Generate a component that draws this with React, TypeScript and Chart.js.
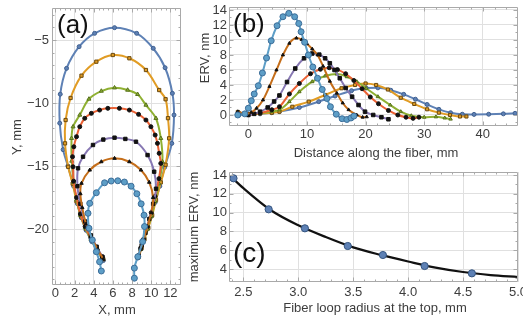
import React, { useEffect, useRef } from "react";
import { Chart, registerables } from "chart.js";

Chart.register(...registerables);

const FONT = "'Liberation Sans', Arial, sans-serif";
const TEXT_COLOR = "#3d3d3d";
const GRID_COLOR = "#e0e0e0";
const FRAME_COLOR = "#a9a9a9";

const COL_BLUE = "#5E81B5";
const COL_ORANGE = "#E19C24";
const COL_GREEN = "#8FB032";
const COL_RED = "#EB6235";
const COL_PURPLE = "#8778B3";
const COL_DORANGE = "#C56E1A";
const COL_LBLUE = "#5D9EC7";

// ---------------- Panel (a): loop shapes (X, mm / Y, mm) ----------------
const A_BLUE_X = [5.0, 4.4, 3.8, 3.2, 2.7, 2.3, 1.9, 1.3, 0.8, 0.45, 0.5, 1.16, 2.47, 4.09, 6.17, 8.48, 10.21, 11.45, 12.21, 12.38, 12.15, 11.4, 10.9, 10.4, 10.0, 9.6, 9.2, 8.9, 8.6];
const A_BLUE_Y = [-22.5, -21.8, -21.0, -20.1, -19.1, -18.0, -16.6, -15.0, -13.7, -11.6, -9.3, -7.25, -5.53, -4.47, -4.02, -4.47, -5.66, -7.2, -9.23, -10.95, -13.2, -15.1, -16.6, -17.9, -19.0, -20.0, -20.9, -21.6, -22.3];
const A_ORANGE_X = [5.0, 4.4, 3.8, 3.2, 2.7, 2.2, 1.8, 1.33, 1.0, 1.06, 1.58, 2.72, 4.27, 5.99, 7.72, 9.45, 10.83, 11.5, 11.75, 11.87, 11.5, 11.0, 10.5, 10.1, 9.7, 9.3, 9.0, 8.7];
const A_ORANGE_Y = [-22.4, -21.7, -20.9, -20.0, -19.0, -17.8, -16.4, -15.06, -13.2, -11.35, -9.6, -7.83, -6.72, -6.19, -6.45, -7.38, -8.97, -9.7, -11.2, -12.8, -14.9, -16.3, -17.7, -18.9, -19.9, -20.8, -21.5, -22.2];
const A_GREEN_X = [4.9, 4.3, 3.7, 3.1, 2.6, 2.2, 1.9, 1.7, 1.68, 1.84, 2.54, 3.5, 4.79, 6.17, 7.54, 8.58, 9.45, 10.49, 11.0, 11.17, 10.8, 10.4, 10.0, 9.6, 9.2, 8.9, 8.6];
const A_GREEN_Y = [-22.3, -21.6, -20.8, -19.9, -18.9, -17.7, -16.3, -14.6, -12.8, -11.88, -10.95, -9.68, -9.05, -8.79, -8.97, -9.31, -10.16, -11.21, -12.8, -14.66, -16.4, -17.8, -19.0, -20.0, -20.9, -21.6, -22.3];
const A_RED_X = [4.9, 4.3, 3.7, 3.1, 2.6, 2.2, 1.9, 1.84, 1.78, 1.92, 2.2, 2.54, 3.06, 3.75, 4.61, 5.47, 6.68, 7.72, 8.68, 9.45, 9.97, 10.41, 10.65, 10.83, 11.0, 10.8, 10.4, 10.0, 9.6, 9.2, 8.9, 8.6];
const A_RED_Y = [-22.2, -21.5, -20.7, -19.8, -18.8, -17.5, -16.2, -15.06, -14.26, -13.47, -12.67, -11.88, -11.21, -10.82, -10.56, -10.42, -10.42, -10.56, -10.9, -11.35, -11.88, -12.54, -13.2, -13.99, -14.79, -16.0, -17.4, -18.7, -19.8, -20.8, -21.5, -22.2];
const A_PURPLE_X = [4.9, 4.3, 3.7, 3.1, 2.6, 2.3, 2.36, 2.88, 3.92, 5.0, 6.17, 7.3, 8.41, 9.62, 10.31, 10.5, 10.2, 9.8, 9.4, 9.0, 8.7];
const A_PURPLE_Y = [-22.2, -21.4, -20.5, -19.4, -18.0, -16.6, -15.18, -14.26, -13.33, -12.9, -12.75, -12.85, -13.07, -14.13, -15.45, -16.8, -18.0, -19.2, -20.3, -21.3, -22.1];
const A_DORANGE_X = [5.0, 4.4, 3.8, 3.2, 2.8, 2.6, 2.72, 3.58, 4.79, 6.17, 7.72, 8.93, 9.79, 10.2, 10.0, 9.6, 9.2, 8.9, 8.6];
const A_DORANGE_Y = [-22.4, -21.6, -20.7, -19.6, -18.3, -17.2, -16.37, -15.32, -14.66, -14.39, -14.66, -15.32, -16.29, -17.5, -18.7, -19.8, -20.8, -21.6, -22.3];
const A_LBLUE_X = [4.79, 4.61, 4.27, 3.85, 3.5, 3.4, 3.58, 4.27, 5.13, 5.82, 6.51, 7.2, 7.9, 8.5, 8.95, 9.25, 9.3, 9.1, 8.6, 8.24, 8.24];
const A_LBLUE_Y = [-23.33, -22.6, -21.8, -20.87, -19.94, -18.75, -17.96, -17.12, -16.33, -16.19, -16.17, -16.27, -16.6, -17.2, -18.0, -18.9, -19.8, -21.0, -22.2, -23.1, -23.9];

const A_XTICKS = [0, 2, 4, 6, 8, 10, 12];
const A_YTICKS = [-20, -15, -10, -5];

// ---------------- Panel (b): ERV vs distance along the fiber ----------------
const B_LBLUE_X = [-1.8, -0.6, 0, 0.5, 1.0, 1.7, 2.4, 3.1, 3.9, 4.9, 5.9, 6.9, 7.9, 8.6, 9.0, 9.6, 10.25, 11.0, 11.8, 12.6, 13.4, 14.0, 15.0, 16.0, 16.8, 17.5, 18.0];
const B_LBLUE_Y = [0.0, 0.15, 0.9, 1.9, 2.8, 3.9, 5.6, 7.6, 9.9, 11.9, 13.1, 13.55, 13.1, 12.2, 11.1, 9.7, 8.0, 6.4, 4.9, 3.4, 2.2, 1.1, 0.1, -0.5, -0.6, -0.4, -0.15];
const B_DORANGE_X = [-1.8, -0.5, 0.5, 1.4, 2.5, 3.6, 4.8, 5.9, 7.0, 8.2, 9.1, 10.0, 10.9, 11.8, 12.75, 13.9, 15.1, 16.1, 17.1, 18.5, 19.5, 20.2];
const B_DORANGE_Y = [0.45, 0.15, 0.35, 0.9, 2.0, 3.8, 6.0, 8.0, 9.56, 10.25, 10.05, 9.5, 8.8, 8.0, 6.5, 4.5, 2.9, 1.6, 0.7, 0.0, -0.3, -0.25];
const B_PURPLE_X = [-1.6, 0, 1.0, 2.0, 3.3, 4.4, 5.3, 6.6, 8.0, 9.5, 10.9, 12.1, 13.1, 13.9, 14.7, 15.6, 16.6, 17.7, 18.8, 19.9, 21.3, 22.7, 23.9];
const B_PURPLE_Y = [0.1, 0.0, 0.15, 0.44, 1.0, 1.8, 2.6, 4.4, 6.2, 7.56, 8.2, 8.05, 7.56, 6.9, 6.0, 4.9, 3.6, 2.44, 1.33, 0.44, 0.0, -0.3, -0.57];
const B_RED_X = [-1.7, 0, 2.0, 4.0, 5.3, 7.0, 8.7, 10.6, 12.3, 13.8, 15.2, 16.6, 18.0, 19.4, 20.8, 22.2, 23.9, 25.5, 26.9, 28.1, 29.1];
const B_RED_Y = [0.3, 0.05, 0.25, 0.7, 1.1, 2.8, 4.2, 5.5, 6.1, 6.3, 6.05, 5.5, 4.6, 3.5, 2.4, 1.5, 0.6, 0.0, -0.3, -0.45, -0.3];
const B_GREEN_X = [-1.7, 0, 2.0, 4.0, 5.3, 7.0, 8.7, 10.9, 13.1, 15.1, 16.8, 18.5, 20.1, 22.1, 24.2, 26.0, 27.8, 30.0, 32.0, 33.5, 34.5];
const B_GREEN_Y = [0.2, 0.05, 0.2, 0.45, 0.67, 1.78, 3.1, 4.44, 5.2, 5.45, 5.1, 4.44, 3.56, 2.44, 1.33, 0.44, -0.1, -0.3, -0.25, -0.4, -0.55];
const B_ORANGE_X = [-1.8, 0, 2.0, 4.0, 5.3, 7.5, 10.3, 13.1, 15.9, 18.2, 20.0, 21.8, 23.8, 26.0, 28.3, 30.5, 32.5, 34.4, 36.1, 37.2];
const B_ORANGE_Y = [0.4, 0.1, 0.2, 0.3, 0.44, 1.1, 1.78, 2.67, 3.56, 4.0, 4.2, 4.0, 3.4, 2.3, 1.47, 0.76, 0.31, 0.0, -0.2, -0.2];
const B_BLUE_X = [-1.8, 0, 2.0, 4.0, 5.3, 8.7, 12.0, 14.8, 17.6, 20.1, 22.1, 24.3, 26.5, 28.5, 30.5, 32.5, 34.5, 36.5, 38.5, 41.0, 43.5, 45.5];
const B_BLUE_Y = [0.1, 0.05, 0.15, 0.3, 0.45, 1.0, 1.78, 2.53, 3.24, 3.6, 3.62, 3.3, 2.75, 2.1, 1.4, 0.75, 0.3, 0.1, 0.08, 0.1, 0.15, 0.22];

const B_XTICKS = [0, 10, 20, 30, 40];
const B_YTICKS = [0, 2, 4, 6, 8, 10, 12, 14];

// ---------------- Panel (c): maximum ERV vs loop radius ----------------
const C_RADIUS = [2.41, 2.73, 3.06, 3.45, 3.77, 4.15, 4.58];
const C_MAX_ERV = [13.65, 10.35, 8.33, 6.45, 5.49, 4.32, 3.54];
const C_FIT_RADIUS = [2.38, 2.5, 2.75, 3.0, 3.25, 3.5, 3.75, 4.0, 4.25, 4.5, 4.75, 5.0];
const C_FIT_ERV = [13.9, 12.6, 10.25, 8.65, 7.4, 6.3, 5.5, 4.8, 4.15, 3.68, 3.36, 3.15];

const C_XTICKS = [2.5, 3.0, 3.5, 4.0, 4.5, 5.0];
const C_YTICKS = [4, 6, 8, 10, 12, 14];

// ---------------- helpers ----------------
type MStyle = { color: string; style: string; r: number; bg: string; bd: string; lw?: number };

const toPts = (xs: number[], ys: number[]) => xs.map((x, i) => ({ x, y: ys[i] }));

function series(xs: number[], ys: number[], s: MStyle, monotone: boolean) {
  return {
    data: toPts(xs, ys),
    showLine: true,
    borderColor: s.color,
    borderWidth: s.lw ?? 2,
    backgroundColor: s.bg,
    pointStyle: s.style,
    pointRadius: s.r,
    pointBackgroundColor: s.bg,
    pointBorderColor: s.bd,
    pointBorderWidth: 1,
    tension: monotone ? 0.4 : 0.35,
    cubicInterpolationMode: monotone ? "monotone" : "default",
    fill: false,
  };
}

const minus = (v: number) => (v < 0 ? "\u2212" + Math.abs(v) : String(v));

function axis(min: number, max: number, ticks: number[], size: number, isX: boolean, pad: number, fmt: (v: number) => string) {
  return {
    type: "linear",
    position: isX ? "bottom" : "left",
    min,
    max,
    bounds: "data",
    afterBuildTicks: (s: any) => {
      s.ticks = ticks.map((v) => ({ value: v }));
    },
    afterFit: (s: any) => {
      if (isX) s.height = size;
      else s.width = size;
      s.paddingLeft = 0;
      s.paddingRight = 0;
      s.paddingTop = 0;
      s.paddingBottom = 0;
    },
    grid: { color: GRID_COLOR, lineWidth: 1, drawTicks: false },
    border: { display: false },
    ticks: {
      autoSkip: false,
      maxRotation: 0,
      minRotation: 0,
      padding: pad,
      color: TEXT_COLOR,
      font: { family: FONT, size: 13 },
      callback: (v: any) => fmt(Number(v)),
    },
    title: { display: false },
  };
}

type TextItem = { text: string; x: number; y: number; font: string; color: string; rot?: number; align?: CanvasTextAlign; baseline?: CanvasTextBaseline };

function textPlugin(items: TextItem[]) {
  return {
    id: "texts",
    afterDraw(chart: any) {
      const ctx = chart.ctx as CanvasRenderingContext2D;
      for (const t of items) {
        ctx.save();
        ctx.font = t.font;
        ctx.fillStyle = t.color;
        ctx.textAlign = t.align || "center";
        ctx.textBaseline = t.baseline || "middle";
        ctx.translate(t.x, t.y);
        if (t.rot) ctx.rotate(t.rot);
        ctx.fillText(t.text, 0, 0);
        ctx.restore();
      }
    },
  };
}

function framePlugin(xMajor: number[], yMajor: number[], xMinor: number, yMinor: number) {
  return {
    id: "frame",
    afterDatasetsDraw(chart: any) {
      const { ctx, chartArea: a } = chart;
      const sx = chart.scales.x;
      const sy = chart.scales.y;
      const L = Math.round(a.left) + 0.5;
      const R = Math.round(a.right) - 0.5;
      const T = Math.round(a.top) + 0.5;
      const B = Math.round(a.bottom) - 0.5;
      ctx.save();
      ctx.strokeStyle = FRAME_COLOR;
      ctx.lineWidth = 1;
      ctx.beginPath();
      ctx.rect(L, T, R - L, B - T);
      const vt = (v: number, len: number) => {
        const p = Math.round(sx.getPixelForValue(v)) + 0.5;
        if (p < L || p > R) return;
        ctx.moveTo(p, B);
        ctx.lineTo(p, B - len);
        ctx.moveTo(p, T);
        ctx.lineTo(p, T + len);
      };
      const ht = (v: number, len: number) => {
        const p = Math.round(sy.getPixelForValue(v)) + 0.5;
        if (p < T || p > B) return;
        ctx.moveTo(L, p);
        ctx.lineTo(L + len, p);
        ctx.moveTo(R, p);
        ctx.lineTo(R - len, p);
      };
      xMajor.forEach((v) => vt(v, 4));
      yMajor.forEach((v) => ht(v, 4));
      const nx0 = Math.ceil(sx.min / xMinor);
      const nx1 = Math.floor(sx.max / xMinor);
      for (let k = nx0; k <= nx1; k++) vt(k * xMinor, 2);
      const ny0 = Math.ceil(sy.min / yMinor);
      const ny1 = Math.floor(sy.max / yMinor);
      for (let k = ny0; k <= ny1; k++) ht(k * yMinor, 2);
      ctx.stroke();
      ctx.restore();
    },
  };
}

const TITLE_FONT = `13px ${FONT}`;
const LABEL_FONT = `26px ${FONT}`;

function baseOptions(padding: any, scales: any) {
  return {
    responsive: false,
    maintainAspectRatio: false,
    animation: false,
    events: [],
    devicePixelRatio: 1,
    layout: { padding },
    plugins: { legend: { display: false }, tooltip: { enabled: false } },
    scales,
  };
}

// ---------------- chart configs ----------------
function configA() {
  const st = {
    blue: { color: COL_BLUE, style: "circle", r: 2, bg: COL_BLUE, bd: "#3f5f8f" },
    orange: { color: COL_ORANGE, style: "rect", r: 2.3, bg: COL_ORANGE, bd: "#6b4a10" },
    green: { color: COL_GREEN, style: "triangle", r: 2.3, bg: COL_GREEN, bd: "#56701c" },
    red: { color: COL_RED, style: "circle", r: 2, bg: "#111", bd: "#111" },
    purple: { color: COL_PURPLE, style: "rect", r: 2.4, bg: "#111", bd: "#111" },
    dorange: { color: COL_DORANGE, style: "triangle", r: 2, bg: "#111", bd: "#111" },
    lblue: { color: COL_LBLUE, style: "circle", r: 3, bg: COL_LBLUE, bd: "#3c6d98" },
  };
  return {
    type: "scatter",
    data: {
      datasets: [
        series(A_LBLUE_X, A_LBLUE_Y, st.lblue, false),
        series(A_DORANGE_X, A_DORANGE_Y, st.dorange, false),
        series(A_PURPLE_X, A_PURPLE_Y, st.purple, false),
        series(A_RED_X, A_RED_Y, st.red, false),
        series(A_GREEN_X, A_GREEN_Y, st.green, false),
        series(A_ORANGE_X, A_ORANGE_Y, st.orange, false),
        series(A_BLUE_X, A_BLUE_Y, st.blue, false),
      ],
    },
    options: baseOptions(
      { left: 0, right: 4, top: 8, bottom: 0 },
      {
        x: axis(-0.36, 13.11, A_XTICKS, 35, true, 1, (v) => String(v)),
        y: axis(-24.44, -2.46, A_YTICKS, 52, false, 3, minus),
      }
    ),
    plugins: [
      framePlugin(A_XTICKS, A_YTICKS, 0.5, 1),
      textPlugin([
        { text: "(a)", x: 57, y: 33, font: LABEL_FONT, color: "#111", align: "left", baseline: "alphabetic" },
        { text: "X, mm", x: 117, y: 310, font: TITLE_FONT, color: TEXT_COLOR },
        { text: "Y, mm", x: 17, y: 137, font: TITLE_FONT, color: TEXT_COLOR, rot: -Math.PI / 2 },
      ]),
    ],
  };
}

function configB() {
  const st = {
    lblue: { color: COL_LBLUE, style: "circle", r: 3, bg: COL_LBLUE, bd: "#3c6d98" },
    dorange: { color: COL_DORANGE, style: "triangle", r: 1.8, bg: "#111", bd: "#111" },
    purple: { color: COL_PURPLE, style: "rect", r: 2.5, bg: "#111", bd: "#111" },
    red: { color: COL_RED, style: "circle", r: 2, bg: "#111", bd: "#111" },
    green: { color: COL_GREEN, style: "triangle", r: 2, bg: COL_GREEN, bd: "#56701c" },
    orange: { color: COL_ORANGE, style: "rect", r: 2.2, bg: COL_ORANGE, bd: "#6b4a10" },
    blue: { color: COL_BLUE, style: "circle", r: 2, bg: COL_BLUE, bd: "#3f5f8f" },
  };
  return {
    type: "scatter",
    data: {
      datasets: [
        series(B_LBLUE_X, B_LBLUE_Y, st.lblue, true),
        series(B_DORANGE_X, B_DORANGE_Y, st.dorange, true),
        series(B_PURPLE_X, B_PURPLE_Y, st.purple, true),
        series(B_RED_X, B_RED_Y, st.red, true),
        series(B_GREEN_X, B_GREEN_Y, st.green, true),
        series(B_ORANGE_X, B_ORANGE_Y, st.orange, true),
        series(B_BLUE_X, B_BLUE_Y, st.blue, true),
      ],
    },
    options: baseOptions(
      { left: 0, right: 3, top: 7, bottom: 0 },
      {
        x: axis(-3.3, 46.0, B_XTICKS, 40, true, 1, (v) => String(v)),
        y: axis(-1.47, 14.4, B_YTICKS, 43, false, 2, (v) => String(v)),
      }
    ),
    plugins: [
      framePlugin(B_XTICKS, B_YTICKS, 2, 1),
      textPlugin([
        { text: "(b)", x: 47, y: 32, font: LABEL_FONT, color: "#111", align: "left", baseline: "alphabetic" },
        { text: "Distance along the fiber, mm", x: 190, y: 153, font: TITLE_FONT, color: TEXT_COLOR },
        { text: "ERV, nm", x: 19, y: 58, font: TITLE_FONT, color: TEXT_COLOR, rot: -Math.PI / 2 },
      ]),
    ],
  };
}

function configC() {
  return {
    type: "scatter",
    data: {
      datasets: [
        {
          data: toPts(C_RADIUS, C_MAX_ERV),
          showLine: false,
          pointStyle: "circle",
          pointRadius: 3.6,
          pointBackgroundColor: COL_BLUE,
          pointBorderColor: "#34547f",
          pointBorderWidth: 1,
        },
        {
          data: toPts(C_FIT_RADIUS, C_FIT_ERV),
          showLine: true,
          borderColor: "#111",
          borderWidth: 2.2,
          pointRadius: 0,
          tension: 0.4,
          cubicInterpolationMode: "monotone",
          fill: false,
        },
      ],
    },
    options: baseOptions(
      { left: 0, right: 3, top: 6, bottom: 0 },
      {
        x: axis(2.369, 5.0, C_XTICKS, 38, true, 3, (v) => v.toFixed(1)),
        y: axis(2.62, 14.32, C_YTICKS, 43, false, 2, (v) => String(v)),
      }
    ),
    plugins: [
      framePlugin(C_XTICKS, C_YTICKS, 0.1, 1),
      textPlugin([
        { text: "(c)", x: 47, y: 96, font: `28px ${FONT}`, color: "#111", align: "left", baseline: "alphabetic" },
        { text: "Fiber loop radius at the top, mm", x: 189, y: 142, font: TITLE_FONT, color: TEXT_COLOR },
        { text: "maximum ERV, nm", x: 8, y: 61, font: TITLE_FONT, color: TEXT_COLOR, rot: -Math.PI / 2 },
      ]),
    ],
  };
}

function ChartCanvas(props: { left: number; top: number; width: number; height: number; make: () => any }) {
  const ref = useRef<HTMLCanvasElement | null>(null);
  useEffect(() => {
    const chart = new Chart(ref.current as HTMLCanvasElement, props.make());
    return () => chart.destroy();
  }, []);
  return (
    <canvas
      ref={ref}
      width={props.width}
      height={props.height}
      style={{ position: "absolute", left: props.left, top: props.top, width: props.width, height: props.height }}
    />
  );
}

export default function App() {
  return (
    <div style={{ position: "absolute", left: 0, top: 0, width: 523, height: 320, background: "#fff", overflow: "hidden" }}>
      <ChartCanvas left={0} top={0} width={186} height={320} make={configA} />
      <ChartCanvas left={186} top={0} width={337} height={166} make={configB} />
      <ChartCanvas left={186} top={166} width={337} height={154} make={configC} />
    </div>
  );
}
